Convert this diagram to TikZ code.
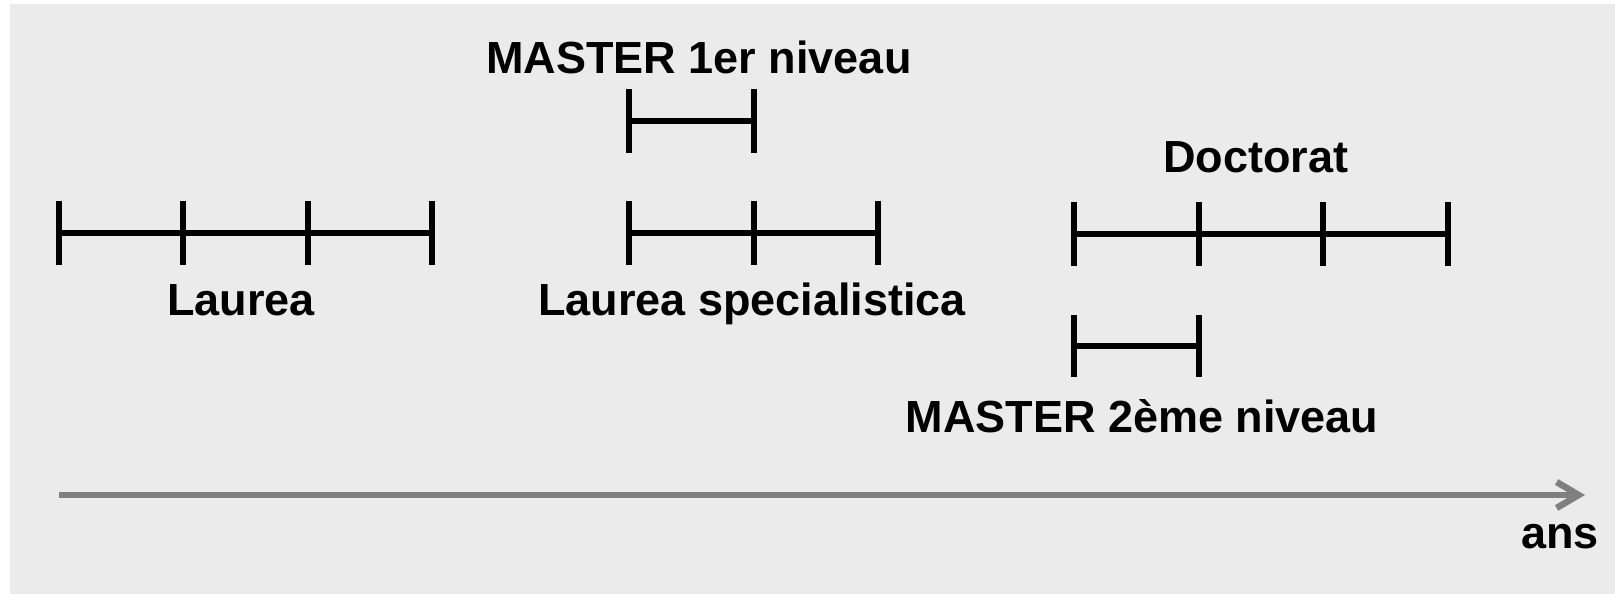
\documentclass[tikz,border=0pt]{standalone}
\usepackage{fontspec}
\setmainfont{Liberation Sans}
\usetikzlibrary{arrows.meta}
\definecolor{bgcol}{HTML}{EBEBEB}
\definecolor{axiscol}{HTML}{808080}
\begin{document}
\begin{tikzpicture}[x=1pt,y=-1pt,
  lbl/.style={anchor=base, inner sep=0pt, font=\fontsize{45}{54}\selectfont\bfseries},
  bar/.style={draw=black, line width=6pt},
  tick/.style={draw=black, line width=6.5pt}]
\useasboundingbox (0,0) rectangle (1615,594);
\fill[white] (0,0) rectangle (1615,594);
\fill[bgcol] (10,4) rectangle (1615,594);
% Laurea
\foreach \i/\x in {1/59,2/183,3/308,4/432}{\coordinate (L\i) at (\x,233);}
\draw[bar] (L1) -- (L4);
\foreach \i in {1,...,4}{\draw[tick] ([yshift=-32pt]L\i) -- ([yshift=32pt]L\i);}
% Laurea specialistica
\foreach \i/\x in {1/629,2/754,3/878}{\coordinate (S\i) at (\x,233);}
\draw[bar] (S1) -- (S3);
\foreach \i in {1,...,3}{\draw[tick] ([yshift=-32pt]S\i) -- ([yshift=32pt]S\i);}
% Master 1
\foreach \i/\x in {1/629,2/754}{\coordinate (MA\i) at (\x,121);}
\draw[bar] (MA1) -- (MA2);
\foreach \i in {1,2}{\draw[tick] ([yshift=-32pt]MA\i) -- ([yshift=32pt]MA\i);}
% Doctorat
\foreach \i/\x in {1/1074,2/1199,3/1323,4/1448}{\coordinate (D\i) at (\x,234);}
\draw[bar] (D1) -- (D4);
\foreach \i in {1,...,4}{\draw[tick] ([yshift=-32pt]D\i) -- ([yshift=32pt]D\i);}
% Master 2
\foreach \i/\x in {1/1074,2/1199}{\coordinate (MB\i) at (\x,346);}
\draw[bar] (MB1) -- (MB2);
\foreach \i in {1,2}{\draw[tick] ([yshift=-31pt]MB\i) -- ([yshift=31pt]MB\i);}
% labels
\node[lbl] (tL) at (241,315) {Laurea};
\node[lbl] (tS) at (752,315) {Laurea specialistica};
\node[lbl] (tM1) at (699,74) {MASTER 1er niveau};
\node[lbl] (tD) at (1256,172) {Doctorat};
\node[lbl] (tM2) at (1142,432) {MASTER 2ème niveau};
\node[lbl] (tA) at (1560,548) {ans};
% axis
\coordinate (A0) at (59,495);
\coordinate (A1) at (1585,495);
\draw[axiscol, line width=5.5pt, -{Straight Barb[length=22pt,width=26pt,line width=6.5pt]}] (A0) -- (A1);
\end{tikzpicture}
\end{document}
